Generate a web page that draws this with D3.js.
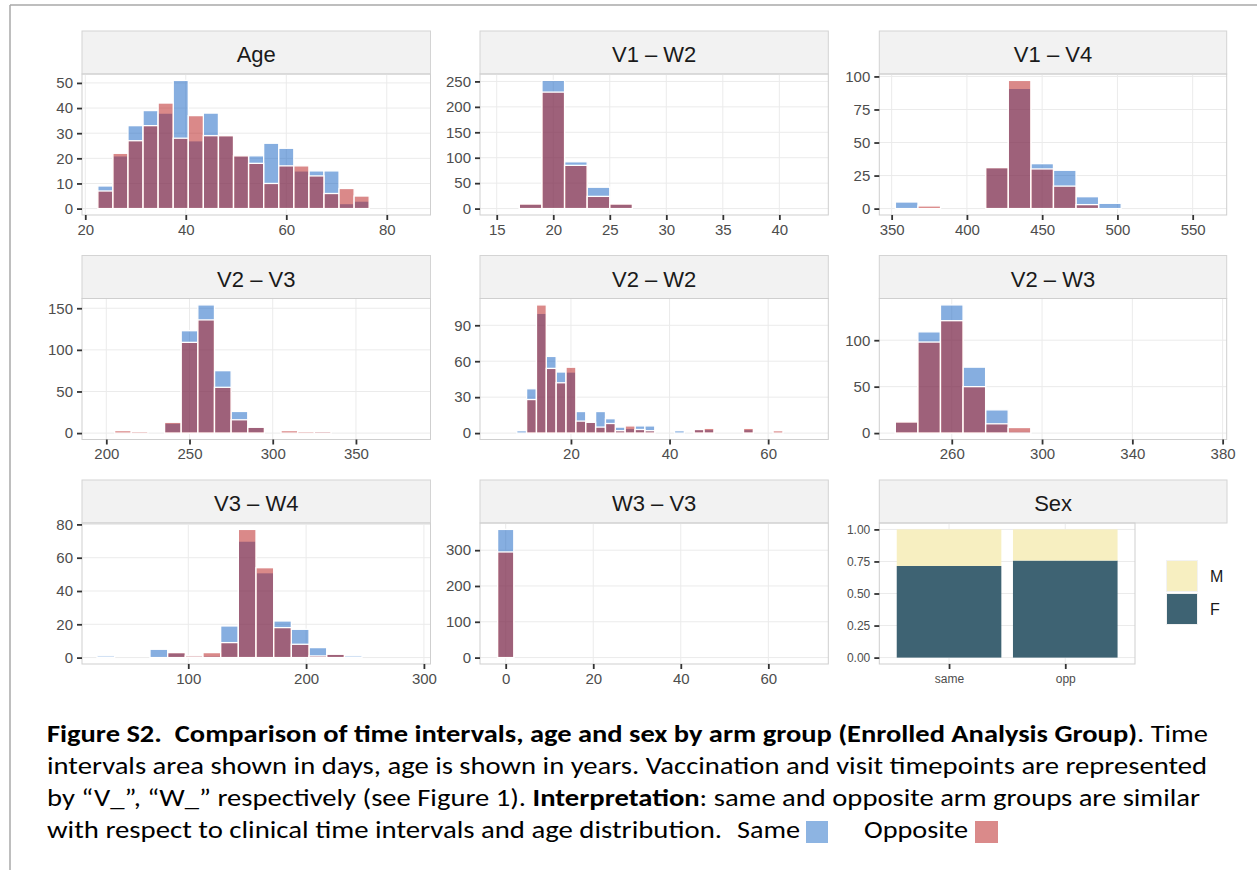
<!DOCTYPE html>
<html><head><meta charset="utf-8">
<script src="https://cdn.jsdelivr.net/npm/d3@7"></script>
<style>body{margin:0;background:#fff} svg{display:block}</style>
</head><body><svg id="c" width="1257" height="870"></svg>
<script>
// ---------------- data ----------------
const ageBins = [24,27,30,33,36,39,42,45,48,51,54,57,60,63,66,69,72,75];
const ageSame = [9,21,33,39,38,51,27,38,29,21,21,26,24,15,15,15,2,3];
const ageOpp  = [7,22,27,33,42,28,37,29,29,21,18,10,17,17,13,6,8,5];
const ageXTicks = [20,40,60,80], ageYTicks = [0,10,20,30,40,50];

const v1w2Bins = [18,20,22,24,26];
const v1w2Same = [9,252,92,42,9];
const v1w2Opp  = [9,229,85,24,9];
const v1w2XTicks = [15,20,25,30,35,40], v1w2YTicks = [0,50,100,150,200,250];

const v1v4Bins = [360,375,420,435,450,465,480,495];
const v1v4Same = [5,0,31,91,34,29,9,4];
const v1v4Opp  = [0,2,31,97,30,17,3,0];
const v1v4XTicks = [350,400,450,500,550], v1v4YTicks = [0,25,50,75,100];

const v2v3Bins = [210,220,240,250,260,270,280,290,310,320,330];
const v2v3Same = [0,0,12,123,154,75,26,7,0,0,2];
const v2v3Opp  = [3,2,13,109,136,55,16,7,3,2,2];
const v2v3XTicks = [200,250,300,350], v2v3YTicks = [0,50,100,150];

const v2w2Bins = [10,12,14,16,18,20,22,24,26,28,30,32,34,36,42,46,48,56,62];
const v2w2Same = [2,37,100,64,51,51,18,9,18,12,5,4,6,6,2,3,3,3,0];
const v2w2Opp  = [0,28,107,54,42,55,10,9,5,8,2,6,3,2,0,3,4,4,2];
const v2w2XTicks = [20,40,60], v2w2YTicks = [0,30,60,90];

const v2w3Bins = [240,250,260,270,280,290];
const v2w3Same = [12,109,138,71,25,2];
const v2w3Opp  = [12,98,121,50,10,6];
const v2w3XTicks = [260,300,340,380], v2w3YTicks = [0,50,100];

const v3w4Bins = [30,75,90,105,120,135,150,165,180,195,210,225,240];
const v3w4Same = [1,5,3,1,1,19,70,51,22,17,6,2,1];
const v3w4Opp  = [0,0,3,1,3,9,77,54,18,8,1,2,0];
const v3w4XTicks = [100,200,300], v3w4YTicks = [0,20,40,60,80];

const w3v3Bins = [0];
const w3v3Same = [358];
const w3v3Opp  = [295];
const w3v3XTicks = [0,20,40,60], w3v3YTicks = [0,100,200,300];

const sexGroups = ["same","opp"];
const sexF = [0.715,0.757];
const sexYTicks = [0,0.25,0.5,0.75,1];
const sexLevels = ["M","F"];

// ---------------- layout ----------------
const svg = d3.select("#c");
const colX = [[82,430.5],[480,828.3],[879.3,1226.7]];
const stripTop = [31,255.5,480];
const stripH = 43, panelH = 141;
const sameFill = "rgb(13,93,193)", oppFill = "rgb(181,19,19)", barAlpha = 0.5;
const tickFont = "'Liberation Sans', Arial, Helvetica, sans-serif";

// page frame
svg.append("line").attr("x1",10).attr("x2",10).attr("y1",5).attr("y2",870).attr("stroke","#a8a8a8").attr("stroke-width",1.5);
svg.append("line").attr("x1",10).attr("x2",1257).attr("y1",5).attr("y2",5).attr("stroke","#a8a8a8").attr("stroke-width",1.5);

const panels = [
  {title:"Age", r:0,c:0, bins:ageBins, bw:3, same:ageSame, opp:ageOpp, xd:[19.35,88.7], xt:ageXTicks, yt:ageYTicks},
  {title:"V1 \u2013 W2", r:0,c:1, bins:v1w2Bins, bw:2, same:v1w2Same, opp:v1w2Opp, xd:[13.52,44.33], xt:v1w2XTicks, yt:v1w2YTicks},
  {title:"V1 \u2013 V4", r:0,c:2, bins:v1v4Bins, bw:15, same:v1v4Same, opp:v1v4Opp, xd:[341.8,572.6], xt:v1v4XTicks, yt:v1v4YTicks},
  {title:"V2 \u2013 V3", r:1,c:0, bins:v2v3Bins, bw:10, same:v2v3Same, opp:v2v3Opp, xd:[185.4,394.8], xt:v2v3XTicks, yt:v2v3YTicks},
  {title:"V2 \u2013 W2", r:1,c:1, bins:v2w2Bins, bw:2, same:v2w2Same, opp:v2w2Opp, xd:[1.55,72.2], xt:v2w2XTicks, yt:v2w2YTicks},
  {title:"V2 \u2013 W3", r:1,c:2, bins:v2w3Bins, bw:10, same:v2w3Same, opp:v2w3Opp, xd:[227.9,381.8], xt:v2w3XTicks, yt:v2w3YTicks},
  {title:"V3 \u2013 W4", r:2,c:0, bins:v3w4Bins, bw:15, same:v3w4Same, opp:v3w4Opp, xd:[9.8,305.6], xt:v3w4XTicks, yt:v3w4YTicks},
  {title:"W3 \u2013 V3", r:2,c:1, bins:w3v3Bins, bw:3.7, same:w3v3Same, opp:w3v3Opp, xd:[-5.87,73.7], xt:w3v3XTicks, yt:w3v3YTicks}
];

function strip(x0,x1,top,title){
  svg.append("rect").attr("x",x0).attr("y",top).attr("width",x1-x0).attr("height",stripH)
    .attr("fill","#f2f2f2").attr("stroke","#d4d4d4").attr("stroke-width",1);
  svg.append("text").attr("x",(x0+x1)/2).attr("y",top+31).attr("text-anchor","middle")
    .attr("font-family",tickFont).attr("font-size",22).attr("fill","#1a1a1a").text(title);
}

panels.forEach((p,pi)=>{
  const [x0,x1] = colX[p.c];
  const top = stripTop[p.r] + stripH, bottom = top + panelH;
  strip(x0,x1,stripTop[p.r],p.title);
  const ymax = d3.max(p.same.concat(p.opp));
  const x = d3.scaleLinear().domain(p.xd).range([x0,x1]);
  const y = d3.scaleLinear().domain([-0.05*ymax,1.05*ymax]).range([bottom,top]);
  const g = svg.append("g");
  const cid = "clip"+pi;
  svg.append("clipPath").attr("id",cid).append("rect").attr("x",x0).attr("y",top).attr("width",x1-x0).attr("height",panelH);
  // grid
  g.selectAll(".gy").data(p.yt).join("line").attr("x1",x0).attr("x2",x1).attr("y1",d=>y(d)).attr("y2",d=>y(d)).attr("stroke","#ebebeb").attr("stroke-width",1);
  g.selectAll(".gx").data(p.xt).join("line").attr("y1",top).attr("y2",bottom).attr("x1",d=>x(d)).attr("x2",d=>x(d)).attr("stroke","#ebebeb").attr("stroke-width",1);
  // bars
  const bars = g.append("g").attr("clip-path",`url(#${cid})`);
  [[p.same,sameFill],[p.opp,oppFill]].forEach(([vals,col])=>{
    bars.append("g").selectAll("rect").data(p.bins.map((b,i)=>({b,v:vals[i]})).filter(d=>d.v>0)).join("rect")
      .attr("x",d=>x(d.b-p.bw/2)).attr("width",d=>x(d.b+p.bw/2)-x(d.b-p.bw/2))
      .attr("y",d=>y(d.v)).attr("height",d=>y(0)-y(d.v))
      .attr("fill",col).attr("fill-opacity",barAlpha).attr("stroke","#fff").attr("stroke-width",1.3);
  });
  // border
  g.append("rect").attr("x",x0).attr("y",top).attr("width",x1-x0).attr("height",panelH).attr("fill","none").attr("stroke","#cfcfcf").attr("stroke-width",1);
  // axes
  const ya = d3.axisLeft(y).tickValues(p.yt).tickSize(5).tickPadding(4).tickFormat(d3.format("d"));
  const xa = d3.axisBottom(x).tickValues(p.xt).tickSize(5).tickPadding(4).tickFormat(d3.format("d"));
  const yg = svg.append("g").attr("transform",`translate(${x0},0)`).call(ya);
  const xg = svg.append("g").attr("transform",`translate(0,${bottom})`).call(xa);
  [yg,xg].forEach(a=>{
    a.select(".domain").remove();
    a.selectAll(".tick line").attr("stroke","#333").attr("stroke-width",1.8);
    a.selectAll(".tick text").attr("fill","#4d4d4d").attr("font-size",15).attr("font-family",tickFont);
  });
});

// ---------------- Sex panel ----------------
(function(){
  const x0 = 879.3, x1 = 1135, top = stripTop[2]+stripH, bottom = top+panelH;
  strip(879.3,1227,stripTop[2],"Sex");
  // ggplot style discrete: positions 1..n with 0.6 expansion
  const xp = d3.scaleLinear().domain([0.4,2.6]).range([x0,x1]);
  const y = d3.scaleLinear().domain([-0.05,1.05]).range([bottom,top]);
  const g = svg.append("g");
  g.selectAll(".gy").data(sexYTicks).join("line").attr("x1",x0).attr("x2",x1).attr("y1",d=>y(d)).attr("y2",d=>y(d)).attr("stroke","#ebebeb");
  g.selectAll(".gx").data(sexGroups).join("line").attr("y1",top).attr("y2",bottom).attr("x1",(d,i)=>xp(i+1)).attr("x2",(d,i)=>xp(i+1)).attr("stroke","#ebebeb");
  const colors = {M:"#f7efc1",F:"#3e6373"};
  sexGroups.forEach((grp,i)=>{
    const f = sexF[i];
    const xl = xp(i+1-0.45), xr = xp(i+1+0.45);
    g.append("rect").attr("x",xl).attr("width",xr-xl).attr("y",y(f)).attr("height",y(0)-y(f)).attr("fill",colors.F);
    g.append("rect").attr("x",xl).attr("width",xr-xl).attr("y",y(1)).attr("height",y(f)-y(1)).attr("fill",colors.M);
  });
  g.append("rect").attr("x",x0).attr("y",top).attr("width",x1-x0).attr("height",panelH).attr("fill","none").attr("stroke","#cfcfcf");
  const ya = d3.axisLeft(y).tickValues(sexYTicks).tickSize(5).tickPadding(4).tickFormat(d3.format(".2f"));
  const yg = svg.append("g").attr("transform",`translate(${x0},0)`).call(ya);
  const xa = d3.axisBottom(xp).tickValues([1,2]).tickSize(5).tickPadding(5).tickFormat(d=>sexGroups[d-1]);
  const xg = svg.append("g").attr("transform",`translate(0,${bottom})`).call(xa);
  [yg,xg].forEach(a=>{
    a.select(".domain").remove();
    a.selectAll(".tick line").attr("stroke","#333").attr("stroke-width",1.8);
    a.selectAll(".tick text").attr("fill","#4d4d4d").attr("font-size",12).attr("font-family",tickFont);
  });
  // legend
  const lg = svg.append("g");
  sexLevels.forEach((lv,i)=>{
    const ky = 560 + i*33;
    lg.append("rect").attr("x",1166).attr("y",ky).attr("width",32).attr("height",32).attr("fill","#f2f2f2");
    lg.append("rect").attr("x",1167).attr("y",ky+1).attr("width",30).attr("height",30).attr("fill",colors[lv]);
    lg.append("text").attr("x",1210).attr("y",ky+22).attr("font-family",tickFont).attr("font-size",16).attr("fill","#1a1a1a").text(lv);
  });
})();

// ---------------- caption ----------------
const capFont = "Carlito, Lato, 'Open Sans', sans-serif";
const cap = svg.append("g").attr("font-family",capFont).attr("font-size",25).attr("fill","#000");
function capLine(y, parts, len){
  const t = cap.append("text").attr("x",47).attr("y",y).attr("textLength",len).attr("lengthAdjust","spacingAndGlyphs").attr("xml:space","preserve");
  parts.forEach(([s,b])=>t.append("tspan").attr("font-weight",b?"bold":"normal").text(s));
}
capLine(742,[["Figure S2.  Comparison of time intervals, age and sex by arm group (Enrolled Analysis Group)",1],[". Time",0]],1161);
capLine(774,[["intervals area shown in days, age is shown in years. Vaccination and visit timepoints are represented",0]],1160);
capLine(806,[["by \u201cV_\u201d, \u201cW_\u201d respectively (see Figure 1). ",0],["Interpretation",1],[": same and opposite arm groups are similar",0]],1153);
capLine(838,[["with respect to clinical time intervals and age distribution.",0]],675);
cap.append("text").attr("x",737).attr("y",838).attr("textLength",63).attr("lengthAdjust","spacingAndGlyphs").text("Same");
cap.append("rect").attr("x",806).attr("y",821).attr("width",22).attr("height",22).attr("fill","#8db4e2");
cap.append("text").attr("x",864).attr("y",838).attr("textLength",104).attr("lengthAdjust","spacingAndGlyphs").text("Opposite");
cap.append("rect").attr("x",975).attr("y",821).attr("width",23).attr("height",22).attr("fill","#da8a8a");
</script></body></html>
